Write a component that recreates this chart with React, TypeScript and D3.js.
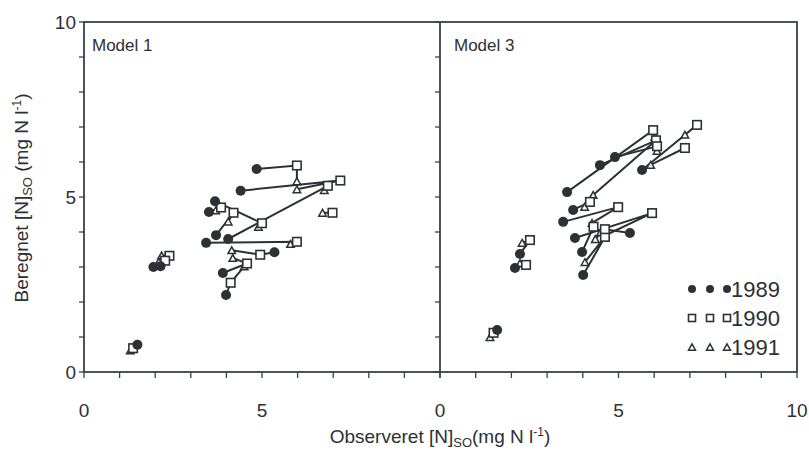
import React from "react";
import * as d3 from "d3";

type Pt = [number, number] | null;

// Observed vs. calculated soil-water N, one entry per site; index links the years.
const model1_1989: Pt[] = [
  [4.85, 5.8], [4.4, 5.18], [3.68, 4.88], [3.51, 4.57], [3.43, 3.69], [4.05, 3.8],
  [3.71, 3.91], null, [5.35, 3.42], [3.9, 2.83], [3.99, 2.2], [1.95, 3.0], [2.15, 3.02], [1.5, 0.78],
];
const model1_1990: Pt[] = [
  [5.98, 5.9], [7.2, 5.47], [5.0, 4.25], [3.85, 4.7], [5.98, 3.72], [6.85, 5.32],
  [4.2, 4.55], [6.98, 4.55], [4.95, 3.35], [4.58, 3.1], [4.12, 2.55], [2.4, 3.32], [2.28, 3.18], [1.38, 0.68],
];
const model1_1991: Pt[] = [
  [5.98, 5.45], [5.98, 5.22], [4.9, 4.15], [3.7, 4.62], [5.8, 3.66], [6.75, 5.2],
  [4.05, 4.3], [6.7, 4.55], [4.15, 3.48], [4.18, 3.26], [4.5, 3.02], [2.18, 3.33], [2.1, 3.15], [1.3, 0.62],
];

const model3_1989: Pt[] = [
  [3.56, 5.14], [4.48, 5.91], [4.9, 6.14], [5.66, 5.77], null, [3.73, 4.63], [3.45, 4.29],
  [3.78, 3.83], [3.98, 3.43], [4.01, 2.77], [5.32, 3.97], [2.24, 3.37], [2.1, 2.97], [1.6, 1.2],
];
const model3_1990: Pt[] = [
  [5.97, 6.91], [6.05, 6.62], [6.08, 6.45], [7.2, 7.06], [6.86, 6.4], [4.2, 4.86], [4.99, 4.71],
  [5.94, 4.54], [4.3, 4.15], [4.62, 3.86], [4.62, 4.08], [2.52, 3.77], [2.41, 3.06], [1.5, 1.12],
];
const model3_1991: Pt[] = [
  [6.02, 6.72], [4.29, 5.06], [6.08, 6.32], [6.86, 6.78], [5.9, 5.92], [4.05, 4.72], [4.26, 4.26],
  [4.62, 3.9], [4.5, 4.0], [4.06, 3.14], [4.35, 3.8], [2.3, 3.69], [2.24, 3.11], [1.4, 1.0],
];

const panelNames = ["Model 1", "Model 3"];
const years = ["1989", "1990", "1991"];
const yTickLabels = [0, 5, 10];

const W = 809;
const H = 454;
const INK = "#2c3136";
const FONT = "'Liberation Sans', Arial, Helvetica, sans-serif";

const y = d3.scaleLinear().domain([0, 10]).range([372, 22]);
const xLeft = d3.scaleLinear().domain([0, 10]).range([84, 440]);
const xRight = d3.scaleLinear().domain([0, 10]).range([440, 797]);

const triPath = (cx: number, cy: number, s: number) => {
  const h = s * 0.9;
  return `M${cx},${cy - h / 2}L${cx + s / 2},${cy + h / 2}L${cx - s / 2},${cy + h / 2}Z`;
};

function Marker({ kind, cx, cy, small }: { kind: number; cx: number; cy: number; small?: boolean }) {
  if (kind === 0) return <circle cx={cx} cy={cy} r={small ? 4 : 5} fill={INK} />;
  if (kind === 1) {
    const s = small ? 7 : 8.5;
    return (
      <rect x={cx - s / 2} y={cy - s / 2} width={s} height={s} fill="#fff" stroke={INK} strokeWidth={1.6} />
    );
  }
  return <path d={triPath(cx, cy, small ? 7 : 7.5)} fill="#fff" stroke={INK} strokeWidth={1.5} />;
}

function Panel({ x, sets }: { x: d3.ScaleLinear<number, number>; sets: Pt[][] }) {
  const line = d3
    .line<[number, number]>()
    .x((d) => x(d[0]))
    .y((d) => y(d[1]));
  const n = sets[0].length;
  const paths = d3.range(n).map((i) => sets.map((s) => s[i]).filter((p): p is [number, number] => p !== null));
  return (
    <g>
      {paths.map((p, i) =>
        p.length > 1 ? (
          <path key={`l${i}`} d={line(p) || ""} fill="none" stroke={INK} strokeWidth={2} />
        ) : null
      )}
      {[2, 1, 0].map((k) =>
        sets[k].map((p, i) =>
          p ? <Marker key={`m${k}-${i}`} kind={k} cx={x(p[0])} cy={y(p[1])} /> : null
        )
      )}
    </g>
  );
}

export default function App() {
  const ticks = d3.range(0, 11);
  const txt = { fontFamily: FONT, fill: INK };
  return (
    <svg width={W} height={H} style={{ position: "absolute", left: 0, top: 0, background: "#fff" }}>
      <rect width={W} height={H} fill="#fff" />

      {/* frames */}
      <g stroke="#3b4148" strokeWidth={1.8} fill="none">
        <rect x={xLeft(0)} y={y(10)} width={xRight(10) - xLeft(0)} height={y(0) - y(10)} />
        <line x1={xRight(0)} x2={xRight(0)} y1={y(10)} y2={y(0)} />
      </g>

      {/* y ticks on both panel edges, x ticks along the bottom */}
      <g stroke="#3b4148" strokeWidth={1.3}>
        {[xLeft(0), xRight(0)].map((x0, j) =>
          ticks.map((t) => <line key={`y${j}-${t}`} x1={x0 - 5} x2={x0} y1={y(t)} y2={y(t)} />)
        )}
        {[xLeft, xRight].map((sx, j) =>
          ticks.map((t) => <line key={`x${j}-${t}`} x1={sx(t)} x2={sx(t)} y1={y(0)} y2={y(0) + 6} />)
        )}
      </g>

      {/* tick labels */}
      <g {...txt} fontSize={19}>
        {yTickLabels.map((t) => (
          <text key={`yl${t}`} x={xLeft(0) - 8} y={y(t) + 7} textAnchor="end">
            {t}
          </text>
        ))}
        {[0, 5].map((t) => (
          <text key={`xl${t}`} x={xLeft(t)} y={417} textAnchor="middle">
            {t}
          </text>
        ))}
        {[0, 5, 10].map((t) => (
          <text key={`xr${t}`} x={xRight(t)} y={417} textAnchor="middle">
            {t}
          </text>
        ))}
      </g>

      {/* panel names */}
      <g {...txt} fontSize={17}>
        <text x={xLeft(0) + 8} y={51}>{panelNames[0]}</text>
        <text x={xRight(0) + 14} y={51}>{panelNames[1]}</text>
      </g>

      <Panel x={xLeft} sets={[model1_1989, model1_1990, model1_1991]} />
      <Panel x={xRight} sets={[model3_1989, model3_1990, model3_1991]} />

      {/* legend */}
      <g>
        {years.map((yr, k) => {
          const cy = 289 + k * 29;
          return (
            <g key={yr}>
              {[692, 710, 727].map((cx) => (
                <Marker key={cx} kind={k} cx={cx} cy={cy} small />
              ))}
              <text {...txt} x={731} y={cy + 8} fontSize={22}>
                {yr}
              </text>
            </g>
          );
        })}
      </g>

      {/* axis titles */}
      <text {...txt} x={440} y={443} fontSize={19} textAnchor="middle">
        Observeret [N]
        <tspan fontSize={13} dy={4}>SO</tspan>
        <tspan dy={-4}>(mg N l</tspan>
        <tspan fontSize={12} dy={-7}>-1</tspan>
        <tspan dy={7}>)</tspan>
      </text>
      <text {...txt} transform="translate(28,198) rotate(-90)" fontSize={19} textAnchor="middle">
        Beregnet [N]
        <tspan fontSize={13} dy={4}>SO</tspan>
        <tspan dy={-4}> (mg N l</tspan>
        <tspan fontSize={12} dy={-7}>-1</tspan>
        <tspan dy={7}>)</tspan>
      </text>
    </svg>
  );
}
